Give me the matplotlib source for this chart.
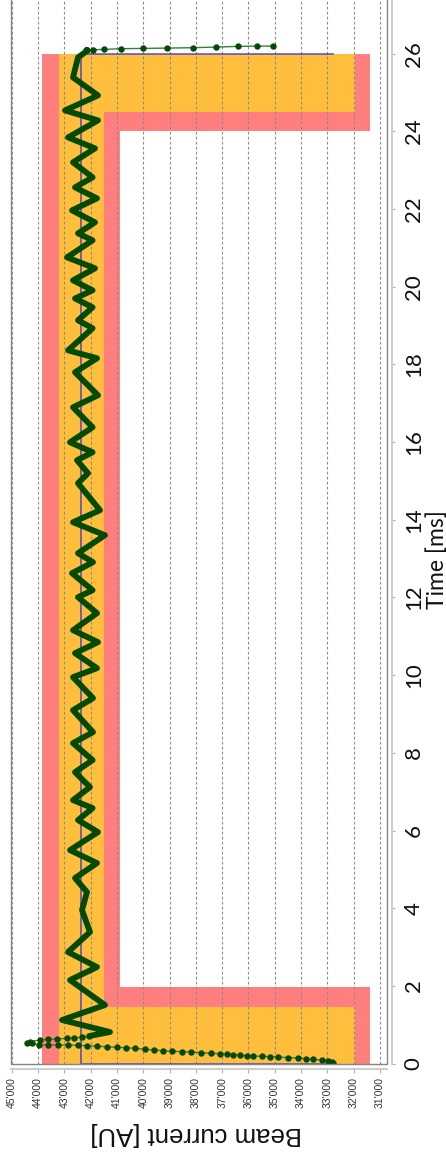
import matplotlib
matplotlib.use('Agg')
import matplotlib.pyplot as plt
from matplotlib.patches import Rectangle

# pulse rising edge (sampled points)
rise_t = [0.005, 0.031, 0.072, 0.090, 0.108, 0.124, 0.142, 0.149, 0.167, 0.175,
          0.185, 0.193, 0.201, 0.211, 0.227, 0.245, 0.252, 0.263, 0.278, 0.296,
          0.304, 0.314, 0.329, 0.347, 0.366, 0.391, 0.407, 0.417, 0.432, 0.443,
          0.458, 0.468, 0.476, 0.476, 0.476, 0.480, 0.520, 0.535, 0.566,
          0.605, 0.623, 0.631, 0.649, 0.664, 0.674, 0.708]
rise_i = [32776, 32837, 32966, 33217, 33536, 33814, 34106, 34486, 34867, 35182,
          35497, 35817, 36068, 36322, 36577, 36828, 37082, 37436, 37805, 38185,
          38538, 38896, 39238, 39591, 39933, 40313, 40655, 41009, 41366, 41746,
          42126, 42491, 42849, 43229, 43609, 43951, 44240, 44430, 44304,
          43924, 43609, 43290, 42909, 42632, 42339, 42050]

# flat top of the pulse
osc_t = [0.708, 0.811, 1.120, 1.506, 2.149, 2.484, 2.870, 3.385, 3.951, 4.415,
         4.775, 5.161, 5.495, 5.959, 6.268, 6.577, 6.782, 7.117, 7.503, 7.812,
         8.250, 8.533, 9.099, 9.408, 9.949, 10.180, 10.566, 10.850, 11.158, 11.596,
         12.008, 12.188, 12.625, 12.909, 13.141, 13.604, 13.938, 14.247, 14.942, 15.199,
         15.534, 15.740, 15.997, 16.383, 16.898, 17.207, 17.799, 18.160, 18.365, 18.932,
         19.138, 19.472, 19.700, 19.910, 20.167, 20.476, 20.759, 21.197, 21.377, 21.660,
         21.969, 22.278, 22.561, 22.819, 23.205, 23.565, 23.848, 24.286, 24.543, 24.929,
         25.392, 25.907, 26.036, 26.105]
osc_i = [42050, 41264, 43088, 41454, 42784, 41758, 42860, 42024, 42328, 42138,
         42594, 41758, 42784, 41720, 42480, 41925, 42670, 42024, 42594, 41925,
         42670, 41910, 42670, 41910, 42670, 41758, 42594, 41720, 42670, 41758,
         42480, 41925, 42708, 41910, 42480, 41454, 42670, 41644, 42480, 42100,
         42518, 41925, 42784, 41925, 42670, 41720, 42594, 41758, 42860, 41925,
         42480, 41925, 42594, 41925, 42670, 41833, 42898, 41925, 42480, 41833,
         42708, 41758, 42594, 41925, 42670, 41833, 42860, 41720, 42974, 41720,
         42670, 42480, 42214, 42149]

# falling edge
fall_t = [26.105, 26.105, 26.113, 26.131, 26.139, 26.147, 26.157, 26.173, 26.191, 26.198, 26.198]
fall_i = [42149, 41898, 41480, 40846, 40021, 39108, 38120, 37235, 36410, 35688, 35057]

# set point
ref_t = [0.0, 0.0, 26.0, 26.0]
ref_i = [32800, 42350, 42350, 32800]

# tolerance masks: segment edges in time, low/high current per segment
red_t = [0.0, 1.97, 24.0, 26.0]
red_low = [31390, 40900, 31390]
red_high = [43830, 43830, 43830]
orange_t = [0.0, 1.45, 24.49, 26.0]
orange_low = [31960, 41480, 31960]
orange_high = [43220, 43220, 43220]

time_ticks = [0, 2, 4, 6, 8, 10, 12, 14, 16, 18, 20, 22, 24, 26]
current_ticks = [45000, 44000, 43000, 42000, 41000, 40000, 39000, 38000,
                 37000, 36000, 35000, 34000, 33000, 32000, 31000]

fig = plt.figure(figsize=(4.46, 11.56), dpi=100)
ax = fig.add_axes([11 / 446, 92.1 / 1156, 376 / 446, 1080 / 1156])
ax.set_xlim(45027, 30735)
ax.set_ylim(-0.01, 27.8)

for k in range(3):
    ax.fill_betweenx([red_t[k], red_t[k + 1]], red_low[k], red_high[k],
                     color='#ff7f7f', lw=0, zorder=1)
for k in range(3):
    ax.fill_betweenx([orange_t[k], orange_t[k + 1]], orange_low[k], orange_high[k],
                     color='#ffbe3c', lw=0, zorder=2)

for c in current_ticks:
    ax.axvline(c, color='#8c8c8c', lw=0.8, ls=(0, (2.5, 2)), zorder=3)

ax.plot(ref_i, ref_t, color='#2a2ae0', alpha=0.7, lw=1.3, zorder=4)

ax.plot(osc_i, osc_t, color='#034a03', lw=4.2, solid_joinstyle='round',
        solid_capstyle='round', zorder=5)
ax.plot(rise_i, rise_t, color='#3a7a3a', lw=1.0, marker='o', ms=3.6,
        mfc='#034a03', mec='#034a03', zorder=6)
ax.plot(fall_i, fall_t, color='#3a7a3a', lw=1.0, marker='o', ms=3.6,
        mfc='#034a03', mec='#034a03', zorder=6)

# plot frame plus offset axis lines
ax.add_patch(Rectangle((0, 0), 1, 1, transform=ax.transAxes, fill=False,
                       ec='#858585', lw=1.0, zorder=7, clip_on=False))
for s in ['left', 'top']:
    ax.spines[s].set_visible(False)
for s in ['right', 'bottom']:
    ax.spines[s].set_position(('outward', 3.6))
    ax.spines[s].set_color('#c8c8c8')
    ax.spines[s].set_linewidth(1.3)

ax.yaxis.tick_right()
ax.set_yticks(time_ticks)
ax.set_yticklabels([str(t) for t in time_ticks], rotation=90, va='center', ha='left',
                   fontfamily='Lato', fontsize=16, color='#111111')
ax.tick_params(axis='y', length=2.5, color='#b0b0b0', pad=6)

ax.set_xticks(current_ticks)
ax.set_xticklabels([f"{c:,}".replace(',', "'") for c in current_ticks], rotation=90,
                   va='top', ha='center', fontfamily='Liberation Sans', fontsize=7.5,
                   color='#333333')
ax.tick_params(axis='x', length=3, color='#b0b0b0', pad=3)

fig.text(437 / 446, 1 - 560 / 1156, 'Time [ms]', rotation=90, ha='center', va='center',
         fontfamily='Lato', fontsize=16.5, color='#111111')
fig.text(196 / 446, 1 - 1134 / 1156, 'Beam current [AU]', rotation=180, ha='center',
         va='center', fontfamily='Liberation Sans', fontsize=18.5, color='#111111')

fig.savefig('out.png', dpi=100)
